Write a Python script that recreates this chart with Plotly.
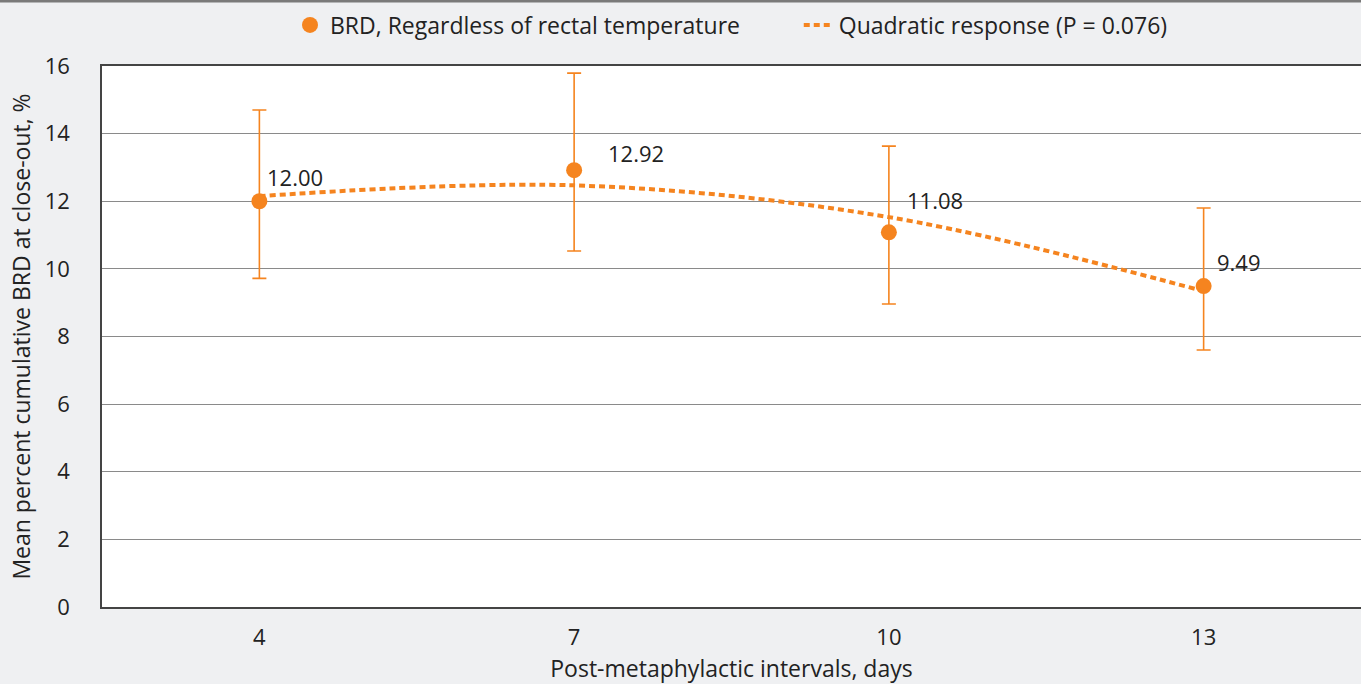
import plotly.graph_objects as go

# ---- data ----
intervals = [4, 7, 10, 13]
brd_mean = [12.00, 12.92, 11.08, 9.49]
err_plus = [2.70, 2.87, 2.55, 2.31]
err_minus = [2.28, 2.39, 2.12, 1.89]
quad_fit = [12.15, 12.47, 11.53, 9.34]
y_ticks = [0, 2, 4, 6, 8, 10, 12, 14, 16]

# ---- styles ----
ORANGE = "#F5841F"
BG = "#EFF0F2"
FONT = "Open Sans, Noto Sans, sans-serif"
TXT = "#222222"
label_shift = [(36, 24), (62, 17), (46, 32), (35, 24)]
NBSP_PAD = "\u00a0" * 9

fig = go.Figure()

fig.add_trace(go.Scatter(
    x=intervals, y=brd_mean, mode="markers",
    name="BRD, Regardless of rectal temperature" + NBSP_PAD,
    marker=dict(color=ORANGE, size=16),
    error_y=dict(type="data", symmetric=False, array=err_plus, arrayminus=err_minus,
                 color=ORANGE, thickness=1.6, width=7),
))

fig.add_trace(go.Scatter(
    x=intervals, y=quad_fit, mode="lines",
    name="Quadratic response (P = 0.076)",
    line=dict(color=ORANGE, width=4, dash="6px,4px", shape="spline", smoothing=1.0),
))

for xv, yv, (dx, dy) in zip(intervals, brd_mean, label_shift):
    fig.add_annotation(x=xv, y=yv, text=f"{yv:.2f}", showarrow=False,
                       xshift=dx, yshift=dy, font=dict(family=FONT, size=22, color=TXT))

# top dark band line
fig.add_shape(type="line", xref="paper", yref="paper",
              x0=-0.1, x1=1.01, y0=(607 - 1) / 541, y1=(607 - 1) / 541,
              line=dict(color="#7a7a7a", width=3))

fig.update_layout(
    width=1361, height=684,
    margin=dict(l=102, r=0, t=66, b=77),
    paper_bgcolor=BG, plot_bgcolor="white",
    font=dict(family=FONT, size=22, color=TXT),
    showlegend=True,
    legend=dict(orientation="h", x=0.5, xanchor="center", y=(607 - 25) / 541,
                yanchor="middle", bgcolor="rgba(0,0,0,0)", font=dict(size=23),
                itemsizing="trace"),
    xaxis=dict(range=[2.5, 14.5], tickmode="array", tickvals=intervals,
               ticktext=[str(v) for v in intervals],
               showgrid=False, zeroline=False, showline=True, linecolor="#444",
               linewidth=1.5, mirror=True, ticks="", ticklabelstandoff=10,
               tickfont=dict(size=22),
               title=dict(text="Post-metaphylactic intervals, days", standoff=12,
                          font=dict(size=23))),
    yaxis=dict(range=[0, 16], tickmode="array", tickvals=y_ticks,
               showgrid=True, gridcolor="#8a8a8a", gridwidth=1, zeroline=False,
               showline=True, linecolor="#444", linewidth=1.5, ticks="",
               ticklabelstandoff=26, tickfont=dict(size=22),
               title=dict(text="Mean percent cumulative BRD at close-out, %", standoff=8,
                          font=dict(size=23))),
)

fig.write_html("out.html", config={"displayModeBar": False},
               post_script="document.body.style.margin='0';document.body.style.overflow='hidden';")
